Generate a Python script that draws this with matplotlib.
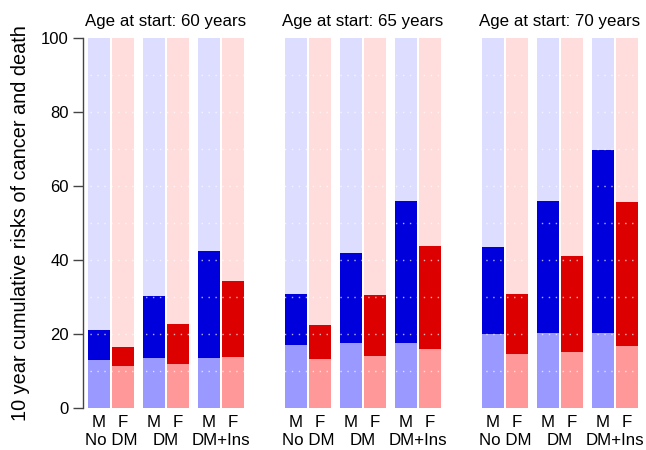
import matplotlib
matplotlib.use("Agg")
import matplotlib.pyplot as plt

plt.rcParams['font.family'] = ['Liberation Sans', 'DejaVu Sans']

# data: cumulative 10-year risks (%), order: NoDM M, NoDM F, DM M, DM F, DM+Ins M, DM+Ins F
ages = [60, 65, 70]
groups = ["No DM", "DM", "DM+Ins"]
sexes = ["M", "F"]

cancer = {
    60: [13.0, 11.4, 13.6, 12.0, 13.6, 13.8],
    65: [17.1, 13.3, 17.6, 14.1, 17.6, 16.0],
    70: [20.0, 14.7, 20.3, 15.2, 20.3, 16.8],
}
cancer_or_death = {
    60: [21.1, 16.5, 30.4, 22.7, 42.5, 34.3],
    65: [30.8, 22.5, 41.9, 30.6, 55.9, 43.8],
    70: [43.5, 30.8, 55.9, 41.1, 69.7, 55.7],
}
total = 100

colors = {
    "M": ["#9999FF", "#0000DD", "#DDDDFF"],
    "F": ["#FF9999", "#DD0000", "#FFDDDD"],
}

# layout (pixel-like units)
bar_w = 22
sex_step = 24
group_step = 55
panel_step = 197
offset = 5.3

fig = plt.figure(figsize=(6.46, 4.5), dpi=100)
ax = fig.add_axes([82.7 / 646, (450 - 408.3) / 450, (646 - 82.7) / 646, (408.3 - 37.7) / 450])

for p, age in enumerate(ages):
    lows = cancer[age]
    mids = cancer_or_death[age]
    for g, grp in enumerate(groups):
        for s, sx in enumerate(sexes):
            i = g * 2 + s
            x = offset + p * panel_step + g * group_step + s * sex_step
            c_lo, c_mid, c_hi = colors[sx]
            ax.bar(x, lows[i], bar_w, align='edge', color=c_lo, linewidth=0)
            ax.bar(x, mids[i] - lows[i], bar_w, bottom=lows[i], align='edge', color=c_mid, linewidth=0)
            ax.bar(x, total - mids[i], bar_w, bottom=mids[i], align='edge', color=c_hi, linewidth=0)
            ax.text(x + bar_w / 2, -4.95, sx, ha='center', va='baseline', fontsize=12.2, clip_on=False)
        gx = offset + p * panel_step + g * group_step + (sex_step + bar_w) / 2
        ax.text(gx, -9.9, grp, ha='center', va='baseline', fontsize=12.2, clip_on=False)
    cx = offset + p * panel_step + (2 * group_step + sex_step + bar_w) / 2
    ax.text(cx, 103.2, f"Age at start: {age} years", ha='center', va='baseline', fontsize=12.2)

for yv in range(10, 100, 10):
    ax.axhline(yv, color='white', linestyle=(0, (1, 4)), linewidth=1.0, alpha=0.7, zorder=2)

ax.set_xlim(0, 646 - 82.7)
ax.set_ylim(0, 100)
ax.set_yticks(range(0, 101, 20))
ax.tick_params(axis='y', length=7, width=1, labelsize=12, color='#444444', pad=3)
ax.set_xticks([])
for side in ['top', 'right', 'bottom']:
    ax.spines[side].set_visible(False)
ax.spines['left'].set_color('#444444')
ax.spines['left'].set_linewidth(1)
ax.set_ylabel("10 year cumulative risks of cancer and death", fontsize=14.3, labelpad=8)

fig.savefig("out.png", dpi=100)
